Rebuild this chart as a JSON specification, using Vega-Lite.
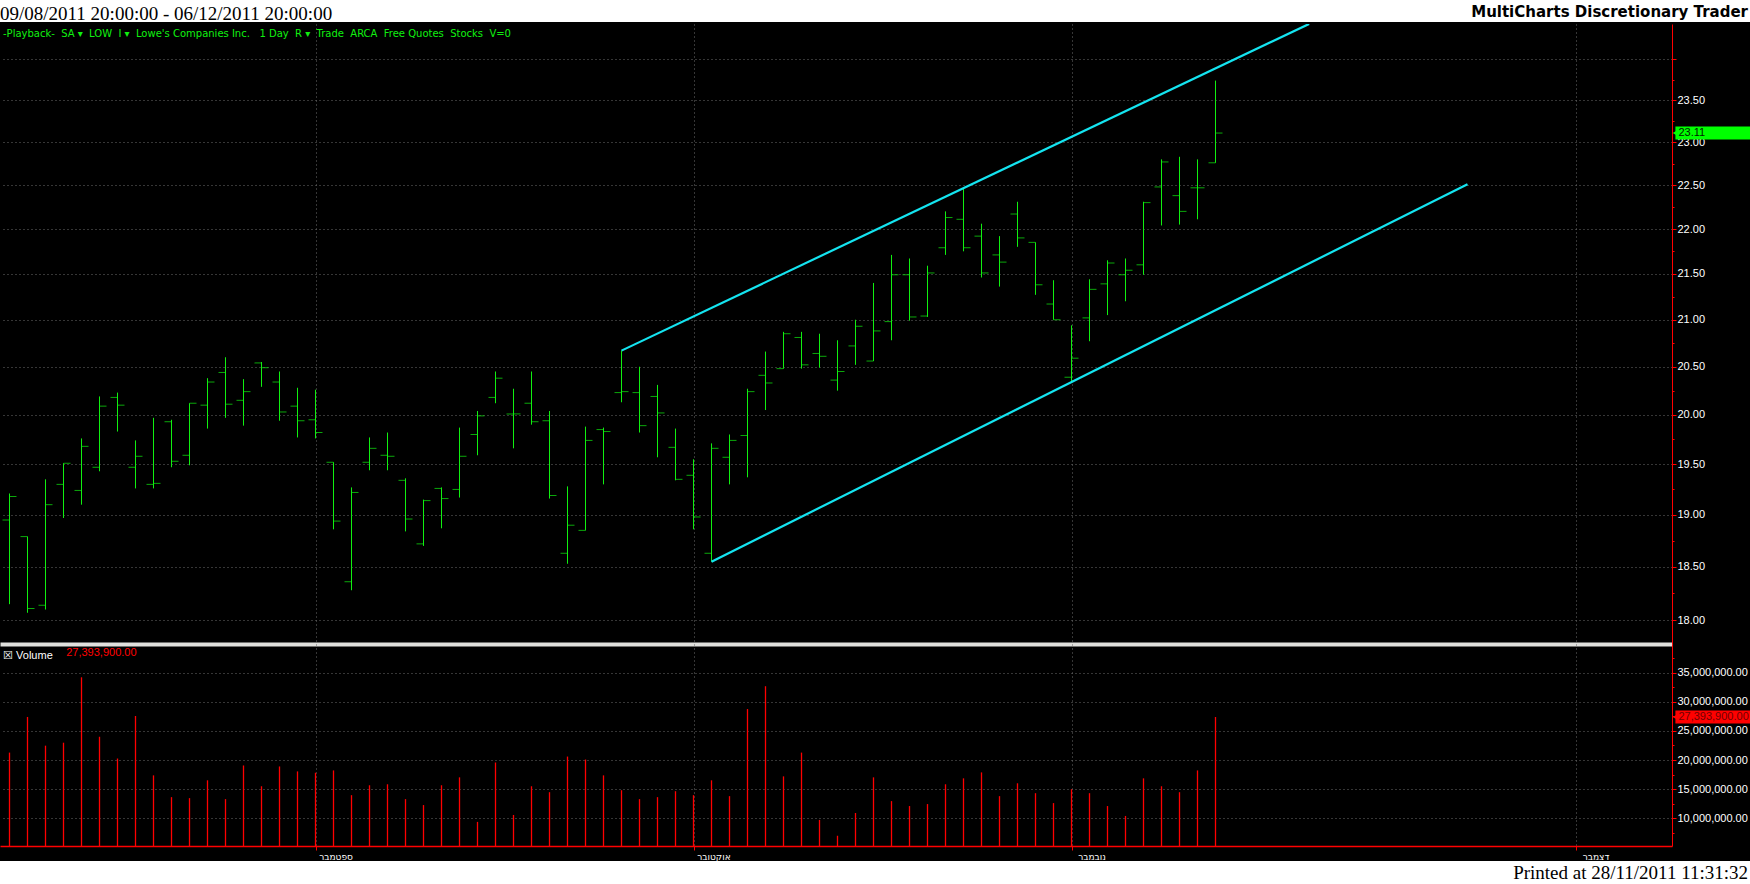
{
  "$schema": "https://vega.github.io/schema/vega-lite/v6.json",
  "background": "black",
  "padding": 0,
  "spacing": 0,
  "config": {
    "view": {"stroke": null},
    "font": "Liberation Sans",
    "axis": {
      "title": null,
      "labelFont": "Liberation Sans",
      "labelFontSize": 11,
      "labelColor": "white",
      "domainColor": "#ff0000",
      "tickColor": "#ff0000",
      "gridColor": "#6c6c6c",
      "gridDash": [1, 3],
      "gridWidth": 1,
      "labelOverlap": false,
      "labelFlush": false
    }
  },
  "datasets": {
    "bars": [
      {"i":0,"d":"2011-08-09","o":18.95,"h":19.21,"l":18.15,"c":19.18,"v":21280000},
      {"i":1,"d":"2011-08-10","o":18.79,"h":18.79,"l":18.07,"c":18.11,"v":27400000},
      {"i":2,"d":"2011-08-11","o":18.14,"h":19.35,"l":18.10,"c":19.10,"v":22470000},
      {"i":3,"d":"2011-08-12","o":19.30,"h":19.51,"l":18.97,"c":19.51,"v":22980000},
      {"i":4,"d":"2011-08-15","o":19.24,"h":19.76,"l":19.10,"c":19.68,"v":34210000},
      {"i":5,"d":"2011-08-16","o":19.47,"h":20.19,"l":19.43,"c":20.09,"v":24000000},
      {"i":6,"d":"2011-08-17","o":20.18,"h":20.23,"l":19.83,"c":20.10,"v":20260000},
      {"i":7,"d":"2011-08-18","o":19.47,"h":19.74,"l":19.26,"c":19.58,"v":27570000},
      {"i":8,"d":"2011-08-19","o":19.30,"h":19.97,"l":19.26,"c":19.31,"v":17370000},
      {"i":9,"d":"2011-08-22","o":19.93,"h":19.95,"l":19.47,"c":19.53,"v":13630000},
      {"i":10,"d":"2011-08-23","o":19.59,"h":20.12,"l":19.49,"c":20.12,"v":13460000},
      {"i":11,"d":"2011-08-24","o":20.10,"h":20.38,"l":19.86,"c":20.34,"v":16520000},
      {"i":12,"d":"2011-08-25","o":20.44,"h":20.60,"l":19.97,"c":20.11,"v":13290000},
      {"i":13,"d":"2011-08-26","o":20.15,"h":20.37,"l":19.89,"c":20.24,"v":19070000},
      {"i":14,"d":"2011-08-29","o":20.54,"h":20.55,"l":20.29,"c":20.49,"v":15500000},
      {"i":15,"d":"2011-08-30","o":20.34,"h":20.45,"l":19.94,"c":20.03,"v":18900000},
      {"i":16,"d":"2011-08-31","o":20.09,"h":20.28,"l":19.77,"c":19.94,"v":18050000},
      {"i":17,"d":"2011-09-01","o":19.95,"h":20.26,"l":19.76,"c":19.82,"v":17820000},
      {"i":18,"d":"2011-09-02","o":19.52,"h":19.52,"l":18.86,"c":18.94,"v":18220000},
      {"i":19,"d":"2011-09-06","o":18.36,"h":19.27,"l":18.28,"c":19.22,"v":13970000},
      {"i":20,"d":"2011-09-07","o":19.52,"h":19.77,"l":19.44,"c":19.66,"v":15670000},
      {"i":21,"d":"2011-09-08","o":19.59,"h":19.82,"l":19.44,"c":19.58,"v":15840000},
      {"i":22,"d":"2011-09-09","o":19.34,"h":19.36,"l":18.84,"c":18.96,"v":13290000},
      {"i":23,"d":"2011-09-12","o":18.72,"h":19.15,"l":18.70,"c":19.14,"v":12270000},
      {"i":24,"d":"2011-09-13","o":19.26,"h":19.27,"l":18.87,"c":19.16,"v":15670000},
      {"i":25,"d":"2011-09-14","o":19.25,"h":19.87,"l":19.17,"c":19.58,"v":17030000},
      {"i":26,"d":"2011-09-15","o":19.80,"h":20.04,"l":19.59,"c":19.99,"v":9380000},
      {"i":27,"d":"2011-09-16","o":20.18,"h":20.45,"l":20.12,"c":20.38,"v":19580000},
      {"i":28,"d":"2011-09-19","o":20.01,"h":20.27,"l":19.66,"c":20.01,"v":10570000},
      {"i":29,"d":"2011-09-20","o":20.12,"h":20.45,"l":19.90,"c":19.93,"v":15500000},
      {"i":30,"d":"2011-09-21","o":19.94,"h":20.04,"l":19.16,"c":19.19,"v":14480000},
      {"i":31,"d":"2011-09-22","o":18.63,"h":19.28,"l":18.53,"c":18.90,"v":20600000},
      {"i":32,"d":"2011-09-23","o":18.85,"h":19.88,"l":18.85,"c":19.74,"v":20090000},
      {"i":33,"d":"2011-09-26","o":19.85,"h":19.87,"l":19.30,"c":19.83,"v":17370000},
      {"i":34,"d":"2011-09-27","o":20.23,"h":20.67,"l":20.13,"c":20.24,"v":14820000},
      {"i":35,"d":"2011-09-28","o":20.23,"h":20.50,"l":19.82,"c":19.89,"v":13290000},
      {"i":36,"d":"2011-09-29","o":20.19,"h":20.31,"l":19.57,"c":20.02,"v":13630000},
      {"i":37,"d":"2011-09-30","o":19.67,"h":19.86,"l":19.34,"c":19.35,"v":14650000},
      {"i":38,"d":"2011-10-03","o":19.39,"h":19.55,"l":18.86,"c":18.98,"v":13970000},
      {"i":39,"d":"2011-10-04","o":18.63,"h":19.71,"l":18.55,"c":19.66,"v":16520000},
      {"i":40,"d":"2011-10-05","o":19.57,"h":19.80,"l":19.30,"c":19.74,"v":13800000},
      {"i":41,"d":"2011-10-06","o":19.79,"h":20.27,"l":19.37,"c":20.24,"v":28760000},
      {"i":42,"d":"2011-10-07","o":20.41,"h":20.66,"l":20.05,"c":20.33,"v":32680000},
      {"i":43,"d":"2011-10-10","o":20.48,"h":20.87,"l":20.48,"c":20.85,"v":17200000},
      {"i":44,"d":"2011-10-11","o":20.81,"h":20.87,"l":20.48,"c":20.52,"v":21280000},
      {"i":45,"d":"2011-10-12","o":20.64,"h":20.85,"l":20.49,"c":20.61,"v":9720000},
      {"i":46,"d":"2011-10-13","o":20.36,"h":20.78,"l":20.25,"c":20.45,"v":7000000},
      {"i":47,"d":"2011-10-14","o":20.72,"h":21.00,"l":20.52,"c":20.93,"v":10910000},
      {"i":48,"d":"2011-10-17","o":20.56,"h":21.40,"l":20.56,"c":20.88,"v":17030000},
      {"i":49,"d":"2011-10-18","o":20.98,"h":21.71,"l":20.78,"c":21.49,"v":12950000},
      {"i":50,"d":"2011-10-19","o":21.49,"h":21.67,"l":20.99,"c":21.03,"v":12100000},
      {"i":51,"d":"2011-10-20","o":21.04,"h":21.59,"l":21.03,"c":21.51,"v":12440000},
      {"i":52,"d":"2011-10-21","o":21.79,"h":22.20,"l":21.71,"c":22.13,"v":15840000},
      {"i":53,"d":"2011-10-24","o":22.11,"h":22.47,"l":21.75,"c":21.79,"v":16860000},
      {"i":54,"d":"2011-10-25","o":21.92,"h":22.06,"l":21.46,"c":21.51,"v":17880000},
      {"i":55,"d":"2011-10-26","o":21.71,"h":21.92,"l":21.36,"c":21.63,"v":13800000},
      {"i":56,"d":"2011-10-27","o":22.17,"h":22.31,"l":21.80,"c":21.90,"v":16010000},
      {"i":57,"d":"2011-10-28","o":21.85,"h":21.85,"l":21.27,"c":21.38,"v":14310000},
      {"i":58,"d":"2011-10-31","o":21.17,"h":21.43,"l":21.00,"c":21.00,"v":12610000},
      {"i":59,"d":"2011-11-01","o":20.39,"h":20.94,"l":20.35,"c":20.59,"v":14990000},
      {"i":60,"d":"2011-11-02","o":21.02,"h":21.44,"l":20.77,"c":21.33,"v":14310000},
      {"i":61,"d":"2011-11-03","o":21.39,"h":21.65,"l":21.05,"c":21.62,"v":12100000},
      {"i":62,"d":"2011-11-04","o":21.49,"h":21.67,"l":21.20,"c":21.54,"v":10400000},
      {"i":63,"d":"2011-11-07","o":21.60,"h":22.31,"l":21.49,"c":22.30,"v":16860000},
      {"i":64,"d":"2011-11-08","o":22.48,"h":22.80,"l":22.04,"c":22.77,"v":15500000},
      {"i":65,"d":"2011-11-09","o":22.38,"h":22.83,"l":22.05,"c":22.20,"v":14480000},
      {"i":66,"d":"2011-11-10","o":22.47,"h":22.80,"l":22.11,"c":22.47,"v":18220000},
      {"i":67,"d":"2011-11-11","o":22.76,"h":23.74,"l":22.76,"c":23.11,"v":27393900}
    ],
    "channel": [
      {"line":"upper","i":34,"price":20.67},
      {"line":"upper","i":72.2,"price":24.44},
      {"line":"lower","i":39,"price":18.55},
      {"line":"lower","i":81,"price":22.51}
    ],
    "header": [
      {"side":"left","label":"09/08/2011 20:00:00 - 06/12/2011 20:00:00"},
      {"side":"right","label":"MultiCharts Discretionary Trader"}
    ],
    "footer": [
      {"side":"right","label":"Printed at 28/11/2011 11:31:32"}
    ]
  },
  "vconcat": [
    {
      "width": 1750,
      "height": 22,
      "view": {"fill": "white", "stroke": null},
      "data": {"name": "header"},
      "encoding": {
        "x": {"field": "side", "type": "nominal", "scale": {"type": "point", "domain": ["left", "right"], "padding": 0}, "axis": null}
      },
      "layer": [
        {
          "transform": [{"filter": "datum.side == 'left'"}],
          "mark": {"type": "text", "align": "left", "baseline": "middle", "font": "Liberation Serif", "fontSize": 19, "color": "black", "dx": 0, "dy": 2.5},
          "encoding": {"text": {"field": "label"}}
        },
        {
          "transform": [{"filter": "datum.side == 'right'"}],
          "mark": {"type": "text", "align": "right", "baseline": "middle", "font": "DejaVu Sans", "fontSize": 15, "fontWeight": "bold", "color": "black", "dx": -2, "dy": 0.5},
          "encoding": {"text": {"field": "label"}}
        }
      ]
    },
    {
      "width": 1672,
      "height": 620,
      "title": {"text": "-Playback-  \u00a0SA ▾ \u00a0LOW \u00a0I ▾ \u00a0Lowe's Companies Inc. \u00a0 1 Day \u00a0R ▾ \u00a0Trade \u00a0ARCA \u00a0Free Quotes \u00a0Stocks \u00a0V=0", "anchor": "start", "orient": "top", "offset": -15, "color": "#10f010", "font": "DejaVu Sans", "fontSize": 10, "fontWeight": "normal", "dx": 3},
      "data": {"name": "bars"},
      "encoding": {
        "x": {
          "field": "i", "type": "quantitative",
          "scale": {"domain": [-0.52778, 92.36111], "nice": false, "zero": false},
          "axis": {"orient": "bottom", "values": [17, 38, 59, 87], "tickCount": 200, "labels": false, "ticks": false, "domain": true, "domainColor": "#e0e0dc", "domainWidth": 4, "grid": true}
        }
      },
      "layer": [
        {
          "mark": {"type": "rule", "color": "#10f010", "strokeWidth": 1},
          "encoding": {
            "y": {
              "field": "l", "type": "quantitative",
              "scale": {"type": "log", "domain": [17.783, 24.439], "nice": false, "zero": false},
              "axis": {
                "orient": "right",
                "values": [18, 18.25, 18.5, 18.75, 19, 19.25, 19.5, 19.75, 20, 20.25, 20.5, 20.75, 21, 21.25, 21.5, 21.75, 22, 22.25, 22.5, 22.75, 23, 23.25, 23.5, 23.75, 24],
                "tickCount": 200,
                "labelExpr": "datum.value % 0.5 == 0 && datum.value < 23.9 ? format(datum.value, '.2f') : ''",
                "grid": true,
                "gridOpacity": {"condition": {"test": "datum.value % 0.5 != 0", "value": 0}, "value": 1},
                "tickSize": {"condition": {"test": "datum.value % 0.5 != 0", "value": 2}, "value": 4},
                "labelPadding": 1
              }
            },
            "y2": {"field": "h"}
          }
        },
        {
          "mark": {"type": "tick", "orient": "horizontal", "color": "#10f010", "size": 7, "thickness": 1, "xOffset": -3.5},
          "encoding": {"y": {"field": "o", "type": "quantitative"}}
        },
        {
          "mark": {"type": "tick", "orient": "horizontal", "color": "#10f010", "size": 7, "thickness": 1, "xOffset": 3.5},
          "encoding": {"y": {"field": "c", "type": "quantitative"}}
        },
        {
          "data": {"name": "channel"},
          "mark": {"type": "line", "color": "#14e4f0", "strokeWidth": 2.2, "clip": true},
          "encoding": {
            "x": {"field": "i", "type": "quantitative"},
            "y": {"field": "price", "type": "quantitative"},
            "detail": {"field": "line"}
          }
        },
        {
          "transform": [{"filter": "datum.i == 67"}],
          "mark": {"type": "rule", "color": "#00ff00", "strokeWidth": 13, "strokeCap": "butt"},
          "encoding": {"x": {"datum": 92.55}, "x2": {"datum": 96.8}, "y": {"field": "c", "type": "quantitative"}}
        },
        {
          "transform": [{"filter": "datum.i == 67"}],
          "mark": {"type": "point", "shape": "triangle-left", "filled": true, "color": "#00ff00", "size": 70, "opacity": 1},
          "encoding": {"x": {"datum": 92.6}, "y": {"field": "c", "type": "quantitative"}}
        },
        {
          "transform": [{"filter": "datum.i == 67"}],
          "mark": {"type": "text", "color": "#002000", "align": "left", "baseline": "middle", "fontSize": 11, "dx": 3},
          "encoding": {"x": {"datum": 92.55}, "y": {"field": "c", "type": "quantitative"}, "text": {"field": "c", "format": ".2f"}}
        },
        {
          "data": {"values": [{"bottom": 17.783}]},
          "mark": {"type": "rule", "color": "#e0e0dc", "strokeWidth": 4, "strokeCap": "butt"},
          "encoding": {"x": {"datum": -0.52778}, "x2": {"datum": 96.8}, "y": {"field": "bottom", "type": "quantitative"}}
        }
      ]
    },
    {
      "width": 1672,
      "height": 202,
      "title": {"text": "☒ Volume", "anchor": "start", "orient": "top", "offset": -17, "color": "white", "font": "Liberation Sans", "fontSize": 11, "fontWeight": "normal", "dx": 3},
      "data": {"name": "bars"},
      "encoding": {
        "x": {
          "field": "i", "type": "quantitative",
          "scale": {"domain": [-0.52778, 92.36111], "nice": false, "zero": false},
          "axis": {
            "orient": "bottom",
            "values": [17, 38, 59, 87],
            "tickCount": 200,
            "labelExpr": "datum.value == 17 ? 'ספטמבר' : datum.value == 38 ? 'אוקטובר' : datum.value == 59 ? 'נובמבר' : 'דצמבר'",
            "labelAlign": "center",
            "labelOffset": 20,
            "labelPadding": 2,
            "labelFont": "DejaVu Sans",
            "labelFontSize": 9,
            "tickSize": 4,
            "domainWidth": 1.5,
            "grid": true
          }
        }
      },
      "layer": [
        {
          "mark": {"type": "rule", "color": "#ff0000", "strokeWidth": 1.3, "clip": true},
          "encoding": {
            "y": {
              "field": "v", "type": "quantitative",
              "scale": {"domain": [5240000, 39930000], "nice": false, "zero": false},
              "axis": {
                "orient": "right",
                "values": [7500000, 10000000, 12500000, 15000000, 17500000, 20000000, 22500000, 25000000, 27500000, 30000000, 32500000, 35000000, 37500000],
                "tickCount": 200,
                "labelExpr": "datum.value % 5000000 == 0 ? format(datum.value, ',.2f') : ''",
                "grid": true,
                "gridOpacity": {"condition": {"test": "datum.value % 5000000 != 0", "value": 0}, "value": 1},
                "tickSize": {"condition": {"test": "datum.value % 5000000 != 0", "value": 2}, "value": 4},
                "labelPadding": 1
              }
            },
            "y2": {"datum": 0}
          }
        },
        {
          "transform": [{"filter": "datum.i == 67"}],
          "mark": {"type": "text", "color": "#ff0000", "align": "left", "baseline": "middle", "fontSize": 11},
          "encoding": {"x": {"datum": 3.15}, "y": {"datum": 38350000}, "text": {"field": "v", "format": ",.2f"}}
        },
        {
          "transform": [{"filter": "datum.i == 67"}],
          "mark": {"type": "rule", "color": "#ff0000", "strokeWidth": 13, "strokeCap": "butt"},
          "encoding": {"x": {"datum": 92.55}, "x2": {"datum": 96.8}, "y": {"field": "v", "type": "quantitative"}}
        },
        {
          "transform": [{"filter": "datum.i == 67"}],
          "mark": {"type": "point", "shape": "triangle-left", "filled": true, "color": "#ff0000", "size": 70, "opacity": 1},
          "encoding": {"x": {"datum": 92.6}, "y": {"field": "v", "type": "quantitative"}}
        },
        {
          "transform": [{"filter": "datum.i == 67"}],
          "mark": {"type": "text", "color": "#700000", "align": "left", "baseline": "middle", "fontSize": 11, "dx": 3},
          "encoding": {"x": {"datum": 92.55}, "y": {"field": "v", "type": "quantitative"}, "text": {"field": "v", "format": ",.2f"}}
        }
      ]
    },
    {
      "width": 1750,
      "height": 22,
      "view": {"fill": "white", "stroke": null},
      "data": {"name": "footer"},
      "mark": {"type": "text", "align": "right", "baseline": "middle", "font": "Liberation Serif", "fontSize": 19, "color": "black", "dx": -2, "dy": 1},
      "encoding": {
        "x": {"field": "side", "type": "nominal", "scale": {"type": "point", "domain": ["left", "right"], "padding": 0}, "axis": null},
        "text": {"field": "label"}
      }
    }
  ]
}
